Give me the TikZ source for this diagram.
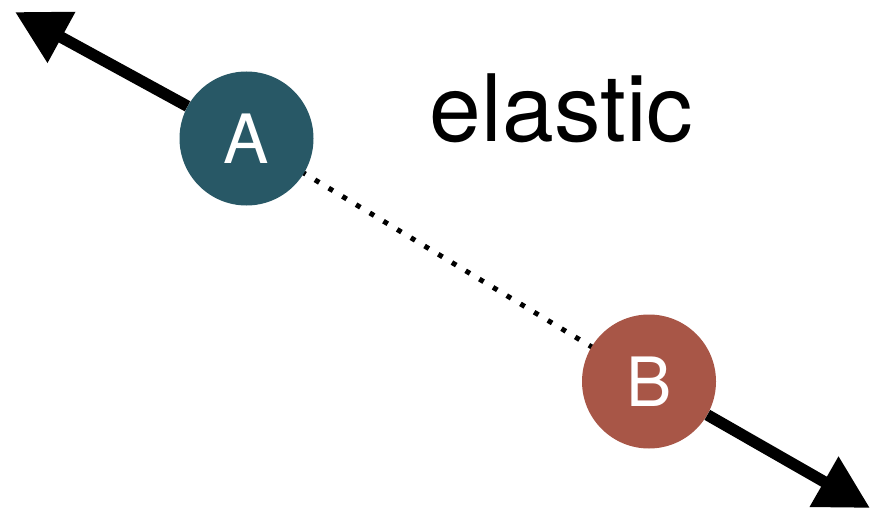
\documentclass[tikz,border=0pt]{standalone}
\usepackage{fontspec}
\setmainfont{TeX Gyre Heros}
\usetikzlibrary{arrows.meta}
\definecolor{ateal}{HTML}{285866}
\definecolor{bred}{HTML}{A85647}
\tikzset{
  ball/.style={circle, minimum size=134pt, inner sep=0pt, text=white, font=\fontsize{68}{68}\selectfont},
  bigarrow/.style={line width=11.5pt, -{Triangle[length=53pt,width=55pt]}},
  spring/.style={line width=5pt, dash pattern=on 5pt off 11pt}
}
\begin{document}
\begin{tikzpicture}[x=1pt,y=-1pt]
\useasboundingbox (0,0) rectangle (872,513);
\coordinate (A0) at (246.5,138.5);
\coordinate (B0) at (649,381.5);
\coordinate (tA) at (15,12);
\coordinate (tB) at (870,508);
\draw[spring] (A0) -- (B0);
\node[ball, fill=ateal] (A) at (A0) {A};
\node[ball, fill=bred] (B) at (B0) {B};
\draw[bigarrow] (A) -- (tA);
\draw[bigarrow] (B) -- (tB);
\node[anchor=base, inner sep=0pt, font=\fontsize{93}{93}\selectfont] (lbl) at (561.5,142) {elastic};
\end{tikzpicture}
\end{document}
